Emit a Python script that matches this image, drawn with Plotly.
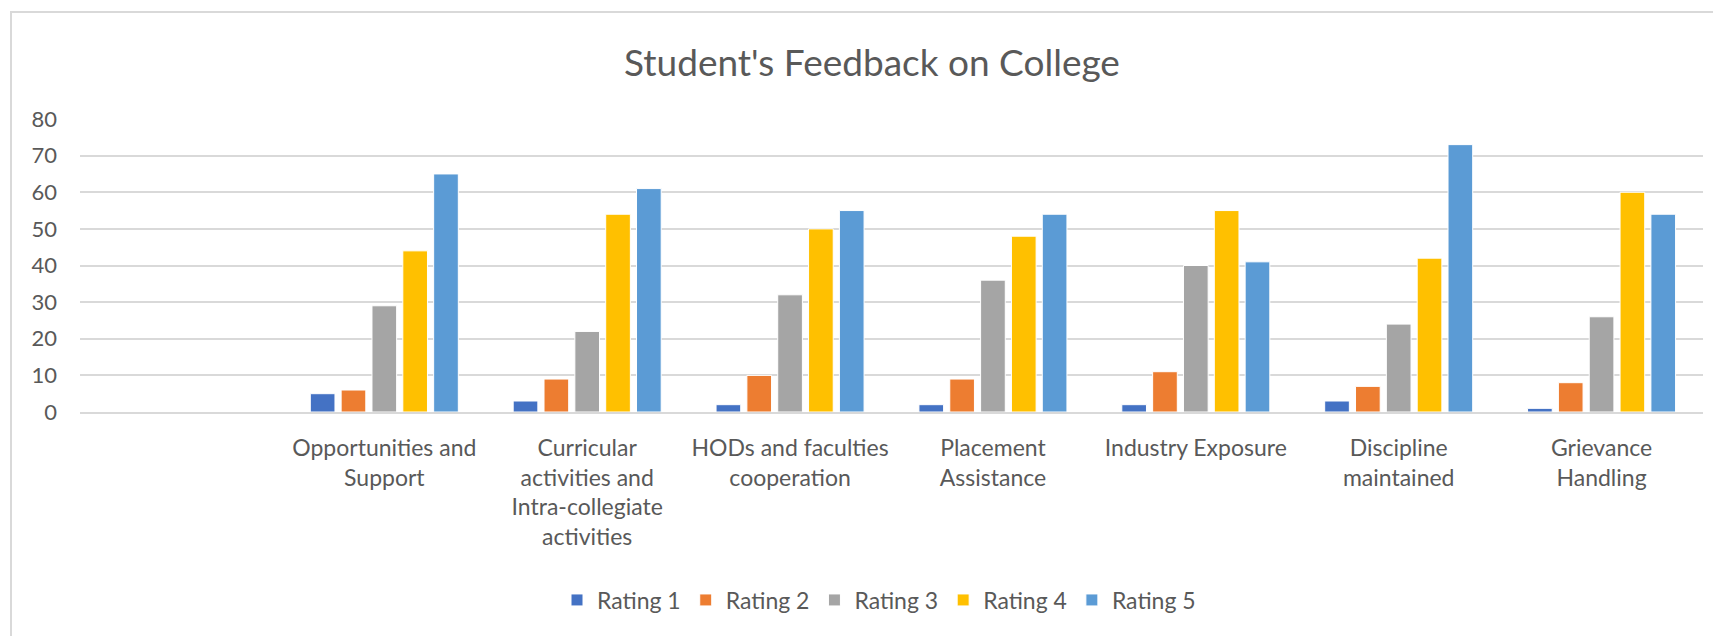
import plotly.graph_objects as go

categories = ["", "Opportunities and Support",
              "Curricular activities and Intra-collegiate activities",
              "HODs and faculties cooperation", "Placement Assistance",
              "Industry Exposure", "Discipline maintained", "Grievance Handling"]
tick_labels = [" ", "Opportunities and<br>Support",
               "Curricular<br>activities and<br>Intra-collegiate<br>activities",
               "HODs and faculties<br>cooperation", "Placement<br>Assistance",
               "Industry Exposure", "Discipline<br>maintained", "Grievance<br>Handling"]
series_names = ["Rating 1", "Rating 2", "Rating 3", "Rating 4", "Rating 5"]
rating_1 = [None, 5, 3, 2, 2, 2, 3, 1]
rating_2 = [None, 6, 9, 10, 9, 11, 7, 8]
rating_3 = [None, 29, 22, 32, 36, 40, 24, 26]
rating_4 = [None, 44, 54, 50, 48, 55, 42, 60]
rating_5 = [None, 65, 61, 55, 54, 41, 73, 54]
colors = ["#4472C4", "#ED7D31", "#A5A5A5", "#FFC000", "#5B9BD5"]
y_ticks = [0, 10, 20, 30, 40, 50, 60, 70, 80]

OFF = 8  # default page body margin
W, H = 1721 - OFF, 636 - OFF
L, T = 80 - OFF, 119 - OFF
R = W - (1703 - OFF)
B = H - (412 - OFF)
FONT = "Lato"
TXT = "#595959"

fig = go.Figure()
x_idx = list(range(len(categories)))
for name, vals, col in zip(series_names, [rating_1, rating_2, rating_3, rating_4, rating_5], colors):
    fig.add_trace(go.Bar(x=x_idx, y=vals, name=name,
                         marker=dict(color=col, line=dict(color="white", width=1))))

pw = W - L - R
ph = H - T - B
def px_x(p):
    return (p - OFF - L) / pw
def px_y(p):
    return (H - B - (p - OFF)) / ph

fig.update_layout(
    width=W, height=H,
    margin=dict(l=L, r=R, t=T, b=B),
    paper_bgcolor="white", plot_bgcolor="white",
    barmode="group", bargap=0.24, bargroupgap=0.2,
    font=dict(family=FONT, color=TXT, size=22),
    title=dict(text="Student's Feedback on College", x=(872 - OFF) / W, xanchor="center",
               y=1 - (63 - OFF) / H, yanchor="middle",
               font=dict(family=FONT, size=37, color=TXT)),
    legend=dict(orientation="h", x=(879 - OFF) / W, xanchor="center", xref="container",
                y=1 - (600 - OFF) / H, yanchor="middle", yref="container",
                font=dict(family=FONT, size=23, color=TXT), itemwidth=30,
                traceorder="normal"),
    xaxis=dict(tickmode="array", tickvals=x_idx, ticktext=tick_labels,
               range=[-0.5, len(categories) - 0.5], showgrid=False, zeroline=False,
               showline=True, linecolor="#D9D9D9", linewidth=2, ticks="",
               ticklabelstandoff=14, tickfont=dict(family=FONT, size=23, color=TXT)),
    yaxis=dict(range=[0, 80], tickvals=y_ticks, showgrid=True, gridcolor="#D9D9D9",
               gridwidth=2, zeroline=False, showline=False, ticks="",
               ticklabelstandoff=22, tickfont=dict(family=FONT, size=22, color=TXT)),
    shapes=[dict(type="rect", xref="paper", yref="paper",
                 x0=px_x(11), x1=px_x(1721 + 10), y0=px_y(636 + 10), y1=px_y(12),
                 line=dict(color="#D9D9D9", width=2), fillcolor="rgba(0,0,0,0)", layer="below")],
)

fig.write_html("out.html")
